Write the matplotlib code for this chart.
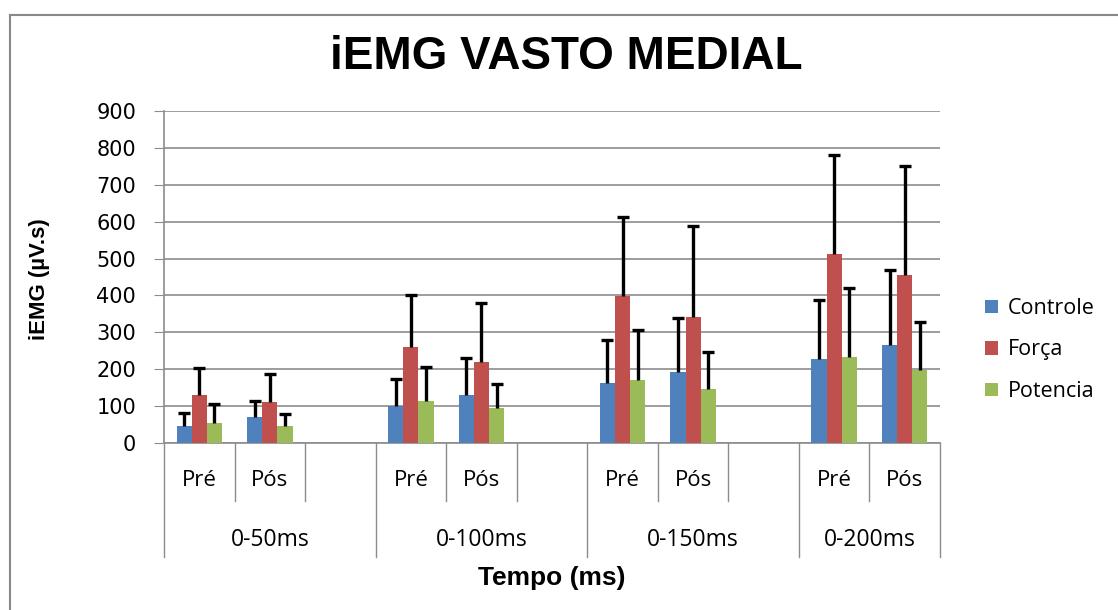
import numpy as np
import matplotlib.pyplot as plt
from matplotlib.lines import Line2D

# data
groups = ["0-50ms", "0-100ms", "0-150ms", "0-200ms"]
phases = ["Pré", "Pós"]
series = ["Controle", "Força", "Potencia"]
colors = ["#4F81BD", "#C0504D", "#9BBB59"]

# order: 0-50 Pré, 0-50 Pós, 0-100 Pré, 0-100 Pós, ... 0-200 Pós
controle = [46, 70, 101, 129, 162, 192, 227, 266]
forca = [129, 110, 260, 220, 398, 342, 511, 455]
potencia = [55, 46, 114, 96, 171, 147, 233, 197]
# top of the error bar (mean + sd)
controle_top = [80, 114, 173, 230, 279, 340, 389, 469]
forca_top = [203, 187, 402, 380, 612, 588, 782, 752]
potencia_top = [106, 78, 205, 160, 306, 248, 420, 328]

means = [controle, forca, potencia]
tops = [controle_top, forca_top, potencia_top]

W, H = 1118, 610
fig = plt.figure(figsize=(W / 100, H / 100), dpi=100)
ax = fig.add_axes([164 / W, 1 - 443 / H, (940 - 164) / W, (443 - 111) / H])

# each group has Pré, Pós and an empty slot (except the last one)
xpos = []
for g in range(len(groups)):
    for p in range(len(phases)):
        xpos.append(g * 3 + p)
xpos = np.array(xpos)

bw = 0.215
cap = 0.085
for i, name in enumerate(series):
    x = xpos + (i - 1) * bw
    m = np.array(means[i])
    t = np.array(tops[i])
    ax.bar(x, m, bw, color=colors[i], label=name, zorder=3)
    # upper error bar only, like in the excel chart
    ax.vlines(x, m, t, color="black", linewidth=2.4, zorder=4)
    ax.hlines(t, x - cap, x + cap, color="black", linewidth=2.4, zorder=4)

ax.set_xlim(-0.5, 10.5)
ax.set_ylim(0, 900)
ax.set_yticks(range(0, 901, 100))
ax.yaxis.grid(True, color="#8C8C8C", linewidth=1.2, zorder=0)
for s in ["top", "right"]:
    ax.spines[s].set_visible(False)
ax.spines["left"].set_color("#8C8C8C")
ax.spines["bottom"].set_color("#8C8C8C")
ax.spines["left"].set_linewidth(1.2)
ax.spines["bottom"].set_linewidth(1.2)
ax.tick_params(axis="y", length=7, color="#8C8C8C", labelsize=15, pad=13)
ax.set_xticks([])

# multi-level category axis
trans = ax.get_xaxis_transform()
inner_y = -(501 - 443) / (443 - 111)
outer_y = -(557 - 443) / (443 - 111)
for b in np.arange(-0.5, 11, 1.0):
    if b in (-0.5, 2.5, 5.5, 8.5, 10.5):
        y1 = outer_y
    else:
        y1 = inner_y
    ax.add_line(Line2D([b, b], [0, y1], transform=trans, color="#8C8C8C",
                       linewidth=1.0, clip_on=False))
lab_y1 = -(481 - 443) / (443 - 111)
lab_y2 = -(540 - 443) / (443 - 111)
for k, x in enumerate(xpos):
    ax.text(x, lab_y1, phases[k % 2], transform=trans, ha="center", va="center",
            fontsize=16, family="Open Sans")
for g, name in enumerate(groups):
    start = g * 3 - 0.5
    end = min(g * 3 + 2.5, 10.5)
    ax.text((start + end) / 2, lab_y2, name, transform=trans, ha="center",
            va="center", fontsize=16.5, family="Open Sans")

fig.text(566 / W, 1 - 57 / H, "iEMG VASTO MEDIAL", ha="center", va="center",
         fontsize=33, fontweight="bold", family="Liberation Sans")
fig.text(40 / W, 1 - 279 / H, "iEMG (µV.s)", ha="center", va="center",
         rotation=90, fontsize=16, fontweight="bold", family="Liberation Sans")
fig.text(552 / W, 1 - 578 / H, "Tempo (ms)", ha="center", va="center",
         fontsize=19, fontweight="bold", family="Liberation Sans")

leg = fig.legend(loc="center left", bbox_to_anchor=(966 / W, 1 - 350 / H),
                 frameon=False, handlelength=0.6, handleheight=0.6,
                 handletextpad=0.45, labelspacing=0.95,
                 prop={"family": "Open Sans", "size": 15.5})

# outer chart border (top and left only visible)
fig.add_artist(Line2D([10 / W, 1], [1 - 15 / H, 1 - 15 / H], transform=fig.transFigure,
                      color="#888888", linewidth=1.5))
fig.add_artist(Line2D([10 / W, 10 / W], [0, 1 - 15 / H], transform=fig.transFigure,
                      color="#888888", linewidth=1.5))

fig.savefig("out.png", dpi=100)
